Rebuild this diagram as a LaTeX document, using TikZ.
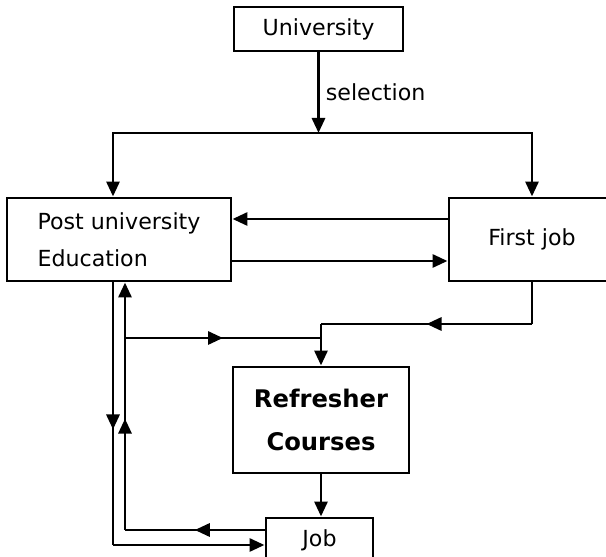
\documentclass[tikz,border=0pt]{standalone}
\usepackage{fontspec}
\setmainfont{DejaVu Sans}
\usetikzlibrary{arrows.meta,calc,decorations.markings}
\tikzset{
  box/.style={draw, line width=1.7pt, inner sep=0pt, font={\fontsize{12.6}{21}\selectfont}},
  arr/.style={-{Triangle[length=3mm,width=2.6mm]}},
  midarrow/.style={postaction={decorate}, decoration={markings,
    mark=at position #1 with {\arrow{Triangle[length=3mm,width=2.6mm]}}}},
  midarrow/.default=0.5,
}

\begin{document}
\begin{tikzpicture}[line width=1.7pt]
			%%%%% START %%%%%
			\path[use as bounding box, clip] (0,0) rectangle (12.12,11.14);
			
			\node[box, minimum width=3.38cm, minimum height=0.88cm] (uni) at (6.37,10.56) {University};
			\node[box, align=left, minimum width=4.48cm, minimum height=1.66cm] (post) at (2.38,6.35) {Post university\\Education};
			\node[box, minimum width=3.32cm, minimum height=1.66cm] (first) at (10.64,6.35) {First job};
			\node[box, align=center, minimum width=3.52cm, minimum height=2.12cm, font={\bfseries\fontsize{13.8}{24.4}\selectfont}] (refr) at (6.42,2.74) {Refresher\\Courses};
			\node[box, minimum width=2.14cm, minimum height=0.9cm] (job) at (6.39,0.33) {Job};
			
			\coordinate (sel) at (6.37,8.48);
			\draw[arr] (uni) -- node[right, font={\fontsize{12.6}{15}\selectfont}] {selection} (sel);
			\draw[arr] (sel) -| ($(post.north)+(-0.12,0)$);
			\draw[arr] (sel) -| (first.north);
			
			\draw[arr] ([yshift=0.41cm]first.west) -- ([yshift=0.41cm]post.east);
			\draw[arr] ([yshift=-0.43cm]post.east) -- ([yshift=-0.43cm]first.west);
			
			\coordinate (bend) at (10.64,4.66);
			\coordinate (meet) at (6.42,4.66);
			\draw (first.south) -- (bend);
			\draw[midarrow] (bend) -- (meet);
			\draw[arr] (meet) -- (refr.north);
			
			\coordinate (fork) at (2.50,4.38);
			\draw[midarrow] (fork) -- (fork -| refr.north);
			
			\draw[arr] (refr.south) -- (refr.south |- job.north);
			
			\coordinate (railA) at ($(post.south)+(-0.12,0)$);
			\coordinate (railB) at ($(post.south)+(0.12,0)$);
			\coordinate (jobIn) at ([yshift=-0.09cm]job.west);
			\coordinate (jobOut) at ([yshift=0.21cm]job.west);
			\draw[midarrow=0.56] (railA) -- (railA |- jobIn);
			\draw[arr] (railA |- jobIn) -- (jobIn);
			\draw[midarrow] (jobOut) -- (railB |- jobOut);
			\draw[arr, midarrow=0.45] (railB |- jobOut) -- (railB);
			%%%%% END %%%%%
		\end{tikzpicture}
\end{document}
